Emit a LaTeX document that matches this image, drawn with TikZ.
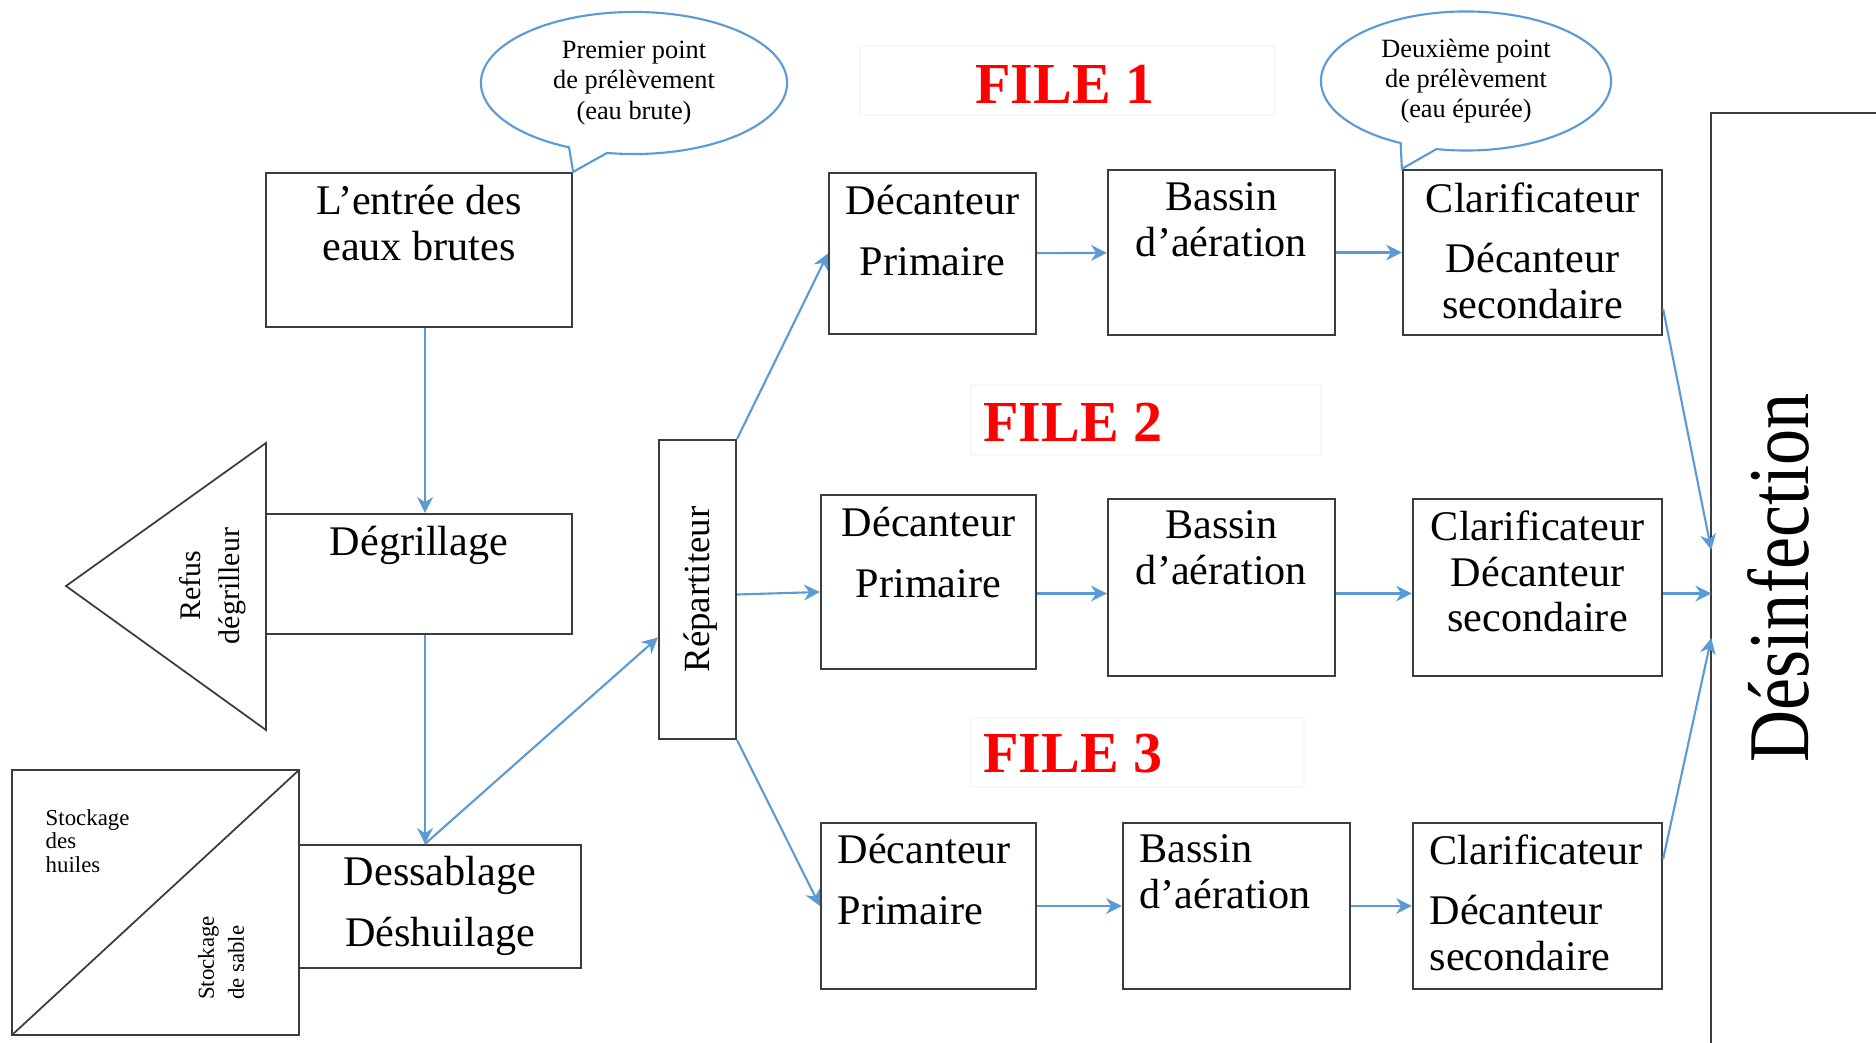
\documentclass[tikz,border=0pt]{standalone}
\usepackage{fontspec}
\setmainfont{Liberation Serif}
\usepackage{tikz}
\usetikzlibrary{arrows.meta,shapes,shapes.callouts,positioning}
\usepackage{xcolor}
\definecolor{flowblue}{RGB}{91,155,213}
\definecolor{filered}{RGB}{255,0,0}
\definecolor{boxgray}{RGB}{60,60,60}
\tikzstyle{stage} = [rectangle, draw=boxgray, line width=0.6pt, inner sep=0pt]
\tikzstyle{stagetext} = [inner sep=0pt, font=\fontsize{12}{13}\selectfont]
\tikzstyle{outline} = [draw=boxgray, line width=0.5pt]
\tikzstyle{flow} = [line width=0.6pt, -{Stealth[length=4.5pt,width=4.5pt]}, color=flowblue]
\tikzstyle{bubble} = [ellipse callout, draw=flowblue, line width=0.6pt, fill=white, align=center, inner sep=0pt, font=\fontsize{7.5}{8.6}\selectfont]
\tikzstyle{filetitle} = [font=\fontsize{16.5}{17}\selectfont\bfseries, text=filered]
\tikzstyle{ghost} = [draw=black!3, line width=0.4pt]

\begin{document}
\begin{tikzpicture}[x=0.01cm, y=-0.01cm]
\useasboundingbox[fill=white] (0,0) rectangle (1876,1043);

% Pretreatment
\node[stage, minimum width=3.06cm, minimum height=1.54cm] (entree) at (419,250) {};
\node[stagetext, align=center, below=0.13cm of entree.north] (entreetxt) {L’entrée des\\eaux brutes};

\node[stage, minimum width=3.06cm, minimum height=1.2cm] (degr) at (419,574) {};
\node[stagetext, below=0.13cm of degr.north] (degrtxt) {Dégrillage};

\node[stage, minimum width=2.82cm, minimum height=1.23cm] (dessab) at (440,906.5) {};
\node[stagetext, align=center, below=0.12cm of dessab.north] (dessabtxt) {Dessablage\\[4.2pt]Déshuilage};

% Screenings and storage
\draw[outline] (266,443) -- (66,586) -- (266,730) -- cycle;
\node[rotate=90, align=center, inner sep=0pt, font=\fontsize{8.5}{11}\selectfont] (refus) at (213,586) {Refus\\dégrilleur};

\draw[outline] (12,770) rectangle (299,1035);
\draw[outline] (12,1035) -- (299,770);
\node[anchor=west, align=left, inner sep=0pt, font=\fontsize{6.5}{6.6}\selectfont] (huiles) at (45,841) {Stockage\\des\\huiles};
\node[rotate=90, align=left, inner sep=0pt, font=\fontsize{6.5}{8.5}\selectfont] (sable) at (221,958) {Stockage\\de sable};

% Splitter
\node[stage, minimum width=0.77cm, minimum height=2.99cm] (repart) at (697.5,589.5) {};
\node[rotate=90, inner sep=0pt, font=\fontsize{10.5}{11}\selectfont] (reparttxt) at (701,589.5) {Répartiteur};

% FILE 1
\node[stage, minimum width=2.07cm, minimum height=1.61cm] (decA) at (932.5,253.5) {};
\node[stagetext, align=center, below=0.13cm of decA.north] (decAtxt) {Décanteur\\[4.2pt]Primaire};
\node[stage, minimum width=2.27cm, minimum height=1.65cm] (basA) at (1221.5,252.5) {};
\node[stagetext, align=center, below=0.13cm of basA.north] (basAtxt) {Bassin\\d’aération};
\node[stage, minimum width=2.59cm, minimum height=1.65cm] (clarA) at (1532.5,252.5) {};
\node[stagetext, align=center, below=0.13cm of clarA.north] (clarAtxt) {Clarificateur\\[4.2pt]Décanteur\\secondaire};

% FILE 2
\node[stage, minimum width=2.15cm, minimum height=1.74cm] (decB) at (928.5,582) {};
\node[stagetext, align=center, below=0.13cm of decB.north] (decBtxt) {Décanteur\\[4.2pt]Primaire};
\node[stage, minimum width=2.27cm, minimum height=1.77cm] (basB) at (1221.5,587.5) {};
\node[stagetext, align=center, below=0.12cm of basB.north] (basBtxt) {Bassin\\d’aération};
\node[stage, minimum width=2.49cm, minimum height=1.77cm] (clarB) at (1537.5,587.5) {};
\node[stagetext, align=center, below=0.12cm of clarB.north] (clarBtxt) {Clarificateur\\Décanteur\\secondaire};

% FILE 3
\node[stage, minimum width=2.15cm, minimum height=1.66cm] (decC) at (928.5,906) {};
\node[stagetext, align=left, below right=0.12cm and 0.17cm of decC.north west] (decCtxt) {Décanteur\\[4.2pt]Primaire};
\node[stage, minimum width=2.27cm, minimum height=1.66cm] (basC) at (1236.5,906) {};
\node[stagetext, align=left, below right=0.12cm and 0.17cm of basC.north west] (basCtxt) {Bassin\\d’aération};
\node[stage, minimum width=2.49cm, minimum height=1.66cm] (clarC) at (1537.5,906) {};
\node[stagetext, align=left, below right=0.12cm and 0.17cm of clarC.north west] (clarCtxt) {Clarificateur\\[4.2pt]Décanteur\\secondaire};

% Disinfection
\node[minimum width=1.64cm, minimum height=9.29cm, inner sep=0pt] (desinf) at (1794,578.5) {};
\draw[outline] (desinf.south west) |- (desinf.north east);
\node[rotate=90, yscale=1.2, inner sep=0pt, font=\fontsize{20.5}{21}\selectfont] (desinftxt) at (1778,578) {Désinfection};

% Line titles
\draw[ghost] (860,46) rectangle (1275,115);
\draw[ghost] (971,385) rectangle (1321,455);
\draw[ghost] (971,718) rectangle (1304,787);
\node[filetitle] (file1) at (1065,84) {FILE 1};
\node[filetitle] (file2) at (1073,422) {FILE 2};
\node[filetitle] (file3) at (1073,754) {FILE 3};

% Sampling points
\node[bubble, minimum width=3.06cm, minimum height=1.42cm, callout absolute pointer={(entree.north east)}] (point1) at (634,83) {Premier point\\de prélèvement\\(eau brute)};
\node[bubble, minimum width=2.9cm, minimum height=1.39cm, callout absolute pointer={(clarA.north west)}] (point2) at (1466,81) {Deuxième point\\de prélèvement\\(eau épurée)};

% Flow
\coordinate (screen) at ([xshift=0.06cm]entree.south);
\coordinate (grit) at (screen |- dessab.north);
\draw[flow] (screen) -- (screen |- degr.north);
\draw[flow] (screen |- degr.south) -- (grit);
\draw[flow] (grit) -- ([yshift=-0.48cm]repart.west);
\draw[flow] (repart.north east) -- (decA.west);
\draw[flow] ([yshift=-0.05cm]repart.east) -- ([yshift=-0.1cm]decB.west);
\draw[flow] (repart.south east) -- (decC.west);

\draw[flow] (decA) -- (basA);
\draw[flow] (basA) -- (clarA);
\draw[flow] ([yshift=-0.06cm]basB.west -| decB.east) -- ([yshift=-0.06cm]basB.west);
\draw[flow] ([yshift=-0.06cm]basB.east) -- ([yshift=-0.06cm]clarB.west);
\draw[flow] (decC) -- (basC);
\draw[flow] (basC) -- (clarC);

\draw[flow] ([yshift=-0.565cm]clarA.east) -- ([yshift=0.285cm]desinf.west);
\draw[flow] ([yshift=-0.06cm]clarB.east) -- ([yshift=-0.06cm]clarB.east -| desinf.west);
\draw[flow] ([yshift=0.47cm]clarC.east) -- ([yshift=-0.595cm]desinf.west);
\end{tikzpicture}
\end{document}
